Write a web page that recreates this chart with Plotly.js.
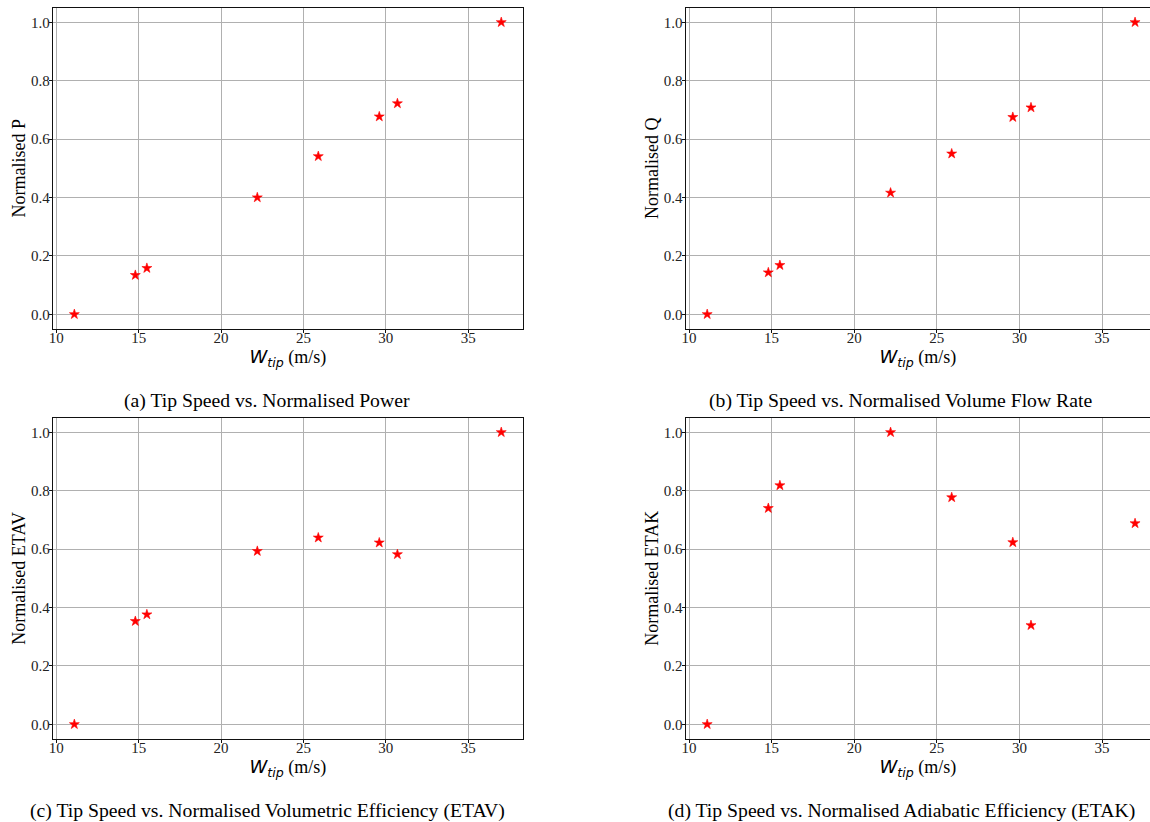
<!DOCTYPE html>
<html>
<head>
<meta charset="utf-8">
<script src="https://cdn.plot.ly/plotly-3.0.1.min.js"></script>
<style>
  html, body { margin: 0; padding: 0; background: #ffffff; }
  #chart { width: 1150px; height: 822px; }
</style>
</head>
<body>
<div id="chart"></div>
<script>
// ---- Data ----
const tipSpeed = [11.1, 14.8, 15.5, 22.2, 25.9, 29.6, 30.7, 37.0];
const normP    = [0, 0.134, 0.158, 0.400, 0.541, 0.677, 0.722, 1.0];
const normQ    = [0, 0.143, 0.168, 0.416, 0.550, 0.675, 0.708, 1.0];
const normETAV = [0, 0.353, 0.376, 0.593, 0.639, 0.622, 0.582, 1.0];
const normETAK = [0, 0.740, 0.818, 1.0, 0.777, 0.623, 0.339, 0.688];

const yLabels = ["Normalised P", "Normalised Q", "Normalised ETAV", "Normalised ETAK"];
const captions = [
  "(a) Tip Speed vs. Normalised Power",
  "(b) Tip Speed vs. Normalised Volume Flow Rate",
  "(c) Tip Speed vs. Normalised Volumetric Efficiency (ETAV)",
  "(d) Tip Speed vs. Normalised Adiabatic Efficiency (ETAK)"
];
const xLabel = '<span style="font-family:DejaVu Sans"><i>W<sub>tip</sub></i></span> (m/s)';

const series = [normP, normQ, normETAV, normETAK];

// ---- Layout geometry ----
const W = 1150, H = 822;
const serif = "Liberation Serif";
const xDomLeft = [53 / W, 522.6 / W];
const xDomRight = [685.8 / W, 1.0];
const yDomTop = [1 - 328.9 / H, 1 - 7.7 / H];
const yDomBot = [1 - 738.9 / H, 1 - 417.7 / H];
const xRangeLeft = [9.805, 38.295];
const xRangeRight = [9.805, 9.805 + (W - 685.8) / 16.52];
const yRange = [-0.05, 1.05];

const doms = [
  {x: xDomLeft,  y: yDomTop, xr: xRangeLeft,  right: false},
  {x: xDomRight, y: yDomTop, xr: xRangeRight, right: true},
  {x: xDomLeft,  y: yDomBot, xr: xRangeLeft,  right: false},
  {x: xDomRight, y: yDomBot, xr: xRangeRight, right: true}
];

const traces = [];
const layout = {
  width: W, height: H,
  margin: {l: 0, r: 0, t: 0, b: 0},
  paper_bgcolor: "#ffffff",
  plot_bgcolor: "#ffffff",
  showlegend: false,
  font: {family: serif, color: "#000000", size: 15},
  annotations: []
};

const captionX = [267, 900, 267, 901];
const captionY = [400, 400, 810, 810];

series.forEach((vals, i) => {
  const n = i + 1;
  const xa = n === 1 ? "x" : "x" + n;
  const ya = n === 1 ? "y" : "y" + n;
  traces.push({
    type: "scatter", mode: "markers",
    x: tipSpeed, y: vals,
    xaxis: xa, yaxis: ya,
    marker: {symbol: "star", size: 7.5, color: "#ff0000", line: {color: "#ff0000", width: 0.6}},
    cliponaxis: false,
    hoverinfo: "x+y"
  });
  const d = doms[i];
  layout["xaxis" + (n === 1 ? "" : n)] = {
    domain: d.x, range: d.xr, anchor: ya,
    tick0: 10, dtick: 5,
    showgrid: true, gridcolor: "#b0b0b0", gridwidth: 1,
    zeroline: false,
    showline: true, linecolor: "#111111", linewidth: 1.2, mirror: true,
    ticks: "outside", ticklen: 3, tickwidth: 1, tickcolor: "#111111", ticklabelstandoff: -8,
    tickfont: {family: serif, size: 15, color: "#222222"},
    title: {text: xLabel, font: {family: serif, size: 18, color: "#000000"}, standoff: 2}
  };
  layout["yaxis" + (n === 1 ? "" : n)] = {
    domain: d.y, range: yRange, anchor: xa,
    tick0: 0, dtick: 0.2, tickformat: ".1f",
    showgrid: true, gridcolor: "#b0b0b0", gridwidth: 1,
    zeroline: false,
    showline: true, linecolor: "#111111", linewidth: 1.2, mirror: !d.right,
    ticks: "outside", ticklen: 3, tickwidth: 1, tickcolor: "#111111", ticklabelstandoff: -4,
    tickfont: {family: serif, size: 15, color: "#222222"},
    title: {text: yLabels[i], font: {family: serif, size: 18, color: "#000000"}, standoff: 0}
  };
  layout.annotations.push({
    xref: "paper", yref: "paper",
    x: captionX[i] / W, y: 1 - captionY[i] / H,
    xanchor: "center", yanchor: "middle",
    text: captions[i], showarrow: false,
    font: {family: serif, size: 19.7, color: "#000000"}
  });
});

Plotly.newPlot("chart", traces, layout, {displayModeBar: false, staticPlot: true});
</script>
</body>
</html>
